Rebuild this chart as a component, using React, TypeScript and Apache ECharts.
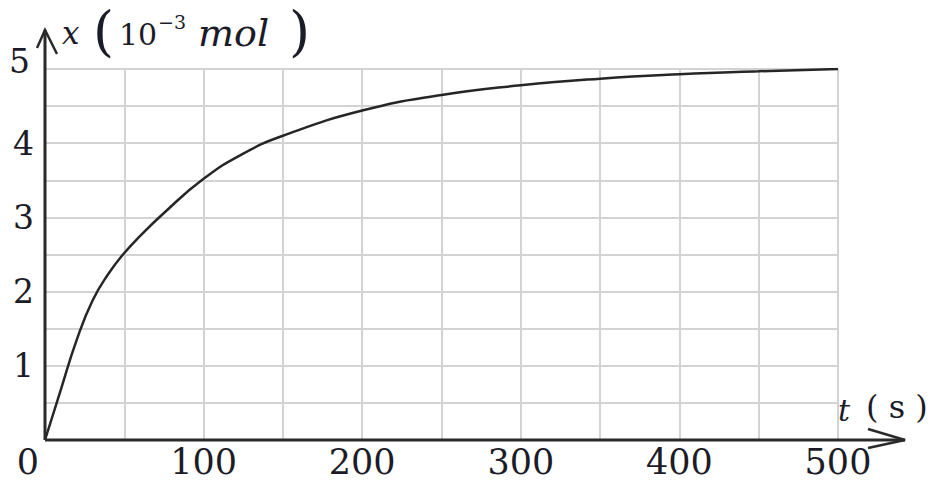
import React, { useEffect, useRef } from "react";
import * as echarts from "echarts";

const timeValues = [0, 10, 20, 30, 40, 50, 60, 75, 100, 125, 150, 200, 250, 300, 350, 400, 450, 500];
const molValues = [0, 0.68, 1.35, 1.88, 2.24, 2.52, 2.75, 3.06, 3.52, 3.86, 4.1, 4.44, 4.65, 4.78, 4.87, 4.93, 4.97, 5.0];
const xTickLabels = ["0", "100", "200", "300", "400", "500"];
const yTickLabels = ["1", "2", "3", "4", "5"];

const TEXT = "#1c1c28";
const SERIF = "DejaVu Serif";

export default function App() {
  const ref = useRef<HTMLDivElement>(null);
  useEffect(() => {
    if (!ref.current) return;
    const chart = echarts.init(ref.current, null, { renderer: "svg" });
    const data = timeValues.map((t, i) => [t, molValues[i]]);
    chart.setOption({
      animation: false,
      backgroundColor: "#ffffff",
      grid: { left: 45, right: 95, top: 69, bottom: 43 },
      xAxis: {
        type: "value",
        min: 0,
        max: 500,
        interval: 50,
        axisLine: { show: false },
        axisTick: { show: false },
        splitLine: { show: true, lineStyle: { color: "#d3d3d3", width: 2 } },
        axisLabel: {
          margin: 4,
          fontFamily: SERIF,
          fontSize: 35,
          color: TEXT,
          formatter: (v: number) => {
            const s = String(v);
            if (!xTickLabels.includes(s)) return "";
            return s === "0" ? "{z|0}" : s;
          },
          rich: { z: { fontFamily: SERIF, fontSize: 35, color: TEXT, padding: [0, 34, 0, 0] } },
        },
      },
      yAxis: {
        type: "value",
        min: 0,
        max: 5,
        interval: 0.5,
        axisLine: { show: false },
        axisTick: { show: false },
        splitLine: { show: true, lineStyle: { color: "#d3d3d3", width: 2 } },
        axisLabel: {
          margin: 11,
          fontFamily: SERIF,
          fontSize: 33,
          color: TEXT,
          formatter: (v: number) => {
            const s = String(v);
            if (!yTickLabels.includes(s)) return "";
            return s === "5" ? "{f|5}" : s;
          },
          rich: { f: { fontFamily: SERIF, fontSize: 33, color: TEXT, padding: [0, 4, 16, 0] } },
        },
      },
      series: [
        {
          type: "line",
          data,
          smooth: 0.5,
          showSymbol: false,
          lineStyle: { color: "#262626", width: 2.5 },
          z: 5,
        },
      ],
    });

    const o = chart.convertToPixel({ gridIndex: 0 }, [0, 0]) as number[];
    const e = chart.convertToPixel({ gridIndex: 0 }, [500, 5]) as number[];
    const ox = o[0], oy = o[1];
    const ex = e[0], ey = e[1];
    const axisStyle = { stroke: "#2a2a2a", lineWidth: 3, fill: null };
    const yTip = ey - 39;
    const xTip = ex + 67;
    chart.setOption({
      graphic: [
        { type: "line", shape: { x1: ox, y1: oy, x2: ox, y2: yTip }, style: axisStyle, z: 10 },
        { type: "line", shape: { x1: ox, y1: oy, x2: xTip, y2: oy }, style: axisStyle, z: 10 },
        {
          type: "polyline",
          shape: { points: [[ox - 8, yTip + 18], [ox, yTip], [ox + 12, yTip + 24]] },
          style: { stroke: "#2a2a2a", lineWidth: 2.5, fill: null },
          z: 10,
        },
        {
          type: "polyline",
          shape: { points: [[xTip - 37, oy - 11], [xTip, oy], [xTip - 37, oy + 8]] },
          style: { stroke: "#2a2a2a", lineWidth: 2.5, fill: null },
          z: 10,
        },
        { type: "text", x: 62, y: 33, style: { text: "x", fontFamily: SERIF, fontStyle: "italic", fontSize: 31, fill: TEXT, verticalAlign: "middle" } },
        { type: "text", x: 93, y: 31, style: { text: "(", fontFamily: SERIF, fontSize: 54, fontWeight: 200, fill: TEXT, verticalAlign: "middle" } },
        { type: "text", x: 119, y: 34, style: { text: "10", fontFamily: SERIF, fontSize: 30, fill: TEXT, verticalAlign: "middle" } },
        { type: "text", x: 158, y: 22, style: { text: "−3", fontFamily: SERIF, fontSize: 19, fill: TEXT, verticalAlign: "middle" } },
        { type: "text", x: 198, y: 33, style: { text: "mol", fontFamily: SERIF, fontStyle: "italic", fontSize: 38, fill: TEXT, verticalAlign: "middle" } },
        { type: "text", x: 289, y: 31, style: { text: ")", fontFamily: SERIF, fontSize: 54, fontWeight: 200, fill: TEXT, verticalAlign: "middle" } },
        { type: "text", x: 838, y: 410, style: { text: "t", fontFamily: SERIF, fontStyle: "italic", fontSize: 30, fill: TEXT, verticalAlign: "middle" } },
        { type: "text", x: 866, y: 407, style: { text: "( s )", fontFamily: SERIF, fontSize: 32, fill: TEXT, verticalAlign: "middle" } },
      ],
    });

    return () => chart.dispose();
  }, []);

  return (
    <div
      ref={ref}
      style={{ position: "fixed", left: 0, top: 0, width: 933, height: 483, background: "#fff" }}
    />
  );
}
